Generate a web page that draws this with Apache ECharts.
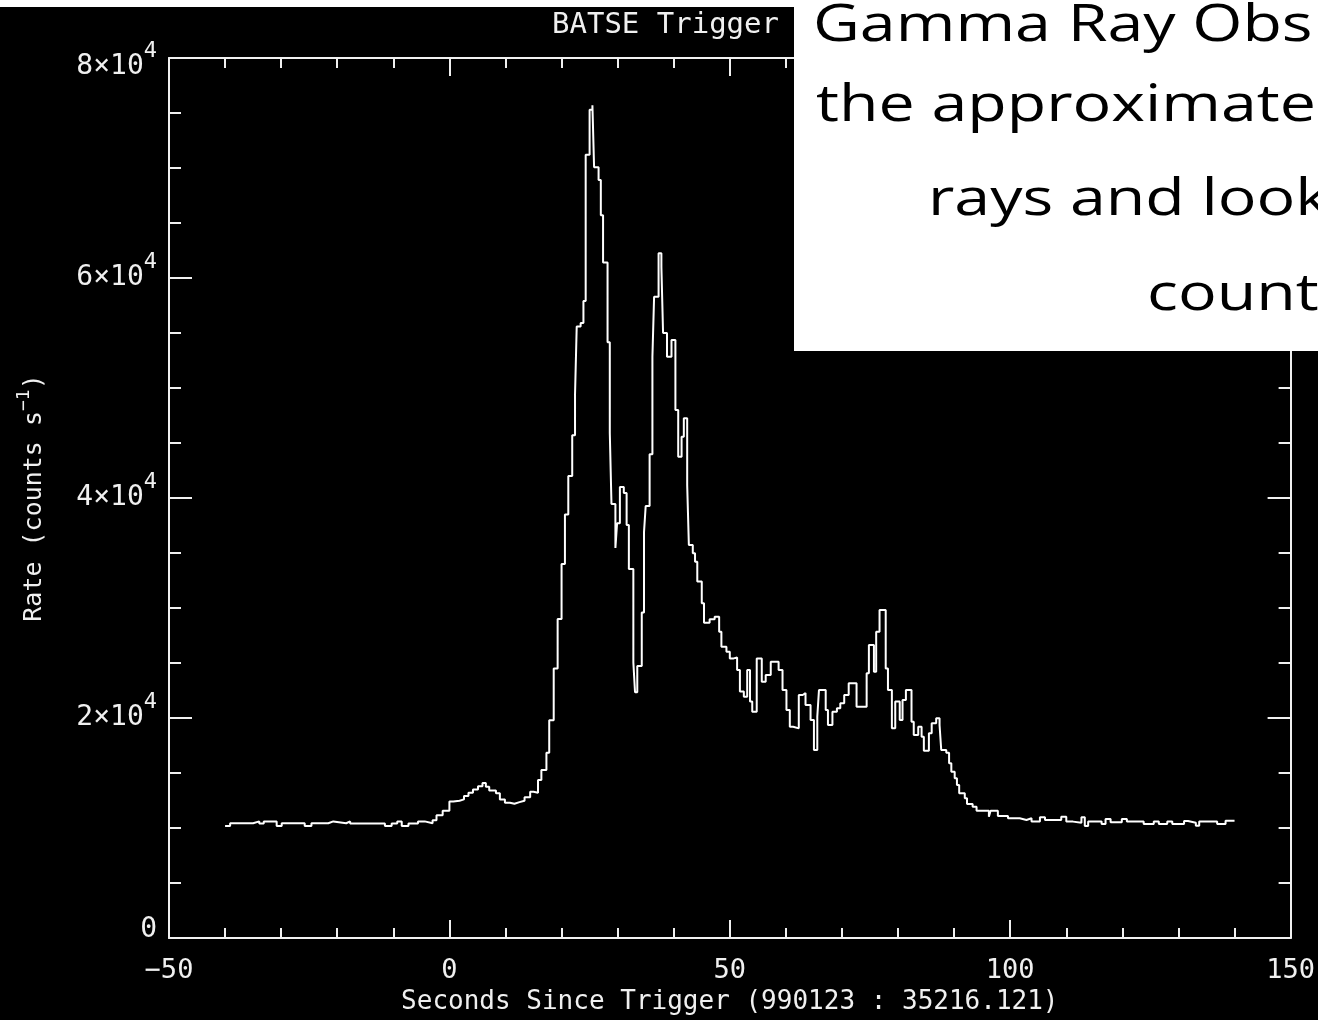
<!DOCTYPE html>
<html>
<head>
<meta charset="utf-8">
<script src="https://cdn.jsdelivr.net/npm/echarts@6/dist/echarts.min.js"></script>
<style>
html,body{margin:0;padding:0;background:#000;}
#chart{width:1318px;height:1020px;}
</style>
</head>
<body>
<div id="chart"></div>
<script>
// Bin start times (s since trigger) and count rates (counts/s)
const times = [
  -40.0,-39.1,-35.0,-33.9,-33.1,-30.8,-29.9,-25.8,-24.6,-21.6,-20.7,-18.4,-17.7,-11.5,-10.3,-9.3,-8.5,-7.3,-5.6,-4.4,
  -3.0,-2.3,-1.2,0.0,0.7,1.8,2.6,3.4,4.2,5.1,5.9,6.5,7.1,8.3,9.0,9.9,10.8,11.6,12.5,13.4,
  14.4,15.0,15.8,16.4,17.3,17.8,18.6,19.3,20.0,20.6,21.2,21.9,22.4,22.7,23.4,23.9,24.3,25.0,25.5,25.8,
  26.6,27.0,27.4,28.2,28.6,28.9,29.6,29.9,30.4,31.1,31.6,32.0,32.8,33.1,33.5,34.3,34.7,35.0,35.7,36.2,
  36.5,37.3,37.8,38.1,38.8,39.6,40.3,40.8,41.4,41.8,42.4,42.7,43.4,43.8,44.2,45.0,45.4,46.4,47.3,48.1,
  48.5,49.4,50.0,50.7,51.3,51.8,52.5,53.1,53.6,54.0,54.8,55.7,56.4,57.3,58.7,59.4,60.1,60.7,61.3,62.3,
  63.0,63.5,64.4,65.0,65.6,65.9,67.1,67.5,68.3,69.1,69.7,70.4,71.2,72.6,74.4,74.8,75.7,76.1,76.7,77.8,
  78.2,78.9,79.5,80.3,80.8,81.4,82.4,82.8,83.6,84.2,84.6,85.5,86.0,86.8,87.4,87.7,88.6,89.1,89.5,90.1,
  90.5,90.9,91.9,92.3,93.3,94.0,96.2,96.5,97.8,99.6,101.7,102.9,103.8,105.3,106.2,109.1,110.0,111.2,112.7,113.3,
  113.9,116.3,117.0,117.9,119.9,120.8,123.8,125.6,126.5,128.0,128.9,131.0,131.7,133.1,133.7,136.9,138.4,140.0
];
const rates = [
  10180,10430,10600,10400,10600,10180,10430,10180,10430,10600,10430,10600,10400,10180,10400,10600,10180,10400,10600,10430,
  10700,11150,11570,12400,12480,12600,12900,13200,13500,13800,14100,13750,13400,13150,12600,12300,12200,12350,12480,12800,
  13300,13200,14360,15270,16850,19800,24500,29000,34000,38500,42000,45700,49400,55600,55900,57900,71200,75300,75700,70060,
  68900,65700,61400,54150,45900,39450,35450,37700,41000,40450,37550,33550,25060,22340,24730,29600,36900,39270,43970,52850,
  58300,62240,61000,55000,52850,54360,48000,43750,45570,47240,41180,35730,34970,34200,32400,30430,28670,28970,29200,27850,
  26480,26030,25420,25500,24360,22400,21940,24360,21490,20570,25420,23300,23900,25120,24360,22550,20730,19210,19060,22090,
  22270,21180,19820,17090,20120,22550,20730,19360,20570,20880,21330,22090,23150,21030,24060,26640,24210,27850,29820,24510,
  22550,19060,21490,19820,21640,22550,19670,18450,19210,18300,17030,18610,19520,19970,19360,17090,16850,15880,15120,14520,
  13910,13150,12700,12180,11940,11570,11030,11570,11090,10880,10730,10880,10580,10970,10730,11030,10580,10480,10970,10180,
  10580,10360,10820,10520,10820,10580,10360,10580,10360,10580,10360,10640,10480,10210,10580,10360,10670,10670
];
const xTitle = 'Seconds Since Trigger (990123 : 35216.121)';
const plotTitle = 'BATSE Trigger';
const boxLines = ['Gamma Ray Obs', 'the approximate', 'rays and look', 'count'];

const FG = '#f0f0f0';
const MONO = '"DejaVu Sans Mono", monospace';
const BOXFONT = '52px "Open Sans", sans-serif';

// horizontal stretch of the slide text: "the approximate" spans ~500px
const cv = document.createElement('canvas').getContext('2d');
cv.font = BOXFONT;
const stretch = 500 / cv.measureText(boxLines[1]).width;
const boxLeft = [813, 816, 928, 1147];
const boxMid = [26, 106, 200, 295];

const chart = echarts.init(document.getElementById('chart'), null, {renderer: 'canvas'});

const axisLine = {show: true, onZero: false, lineStyle: {color: FG, width: 2}};
const xCommon = {
  type: 'value', min: -50, max: 150, interval: 50,
  axisLine: axisLine,
  axisTick: {show: true, inside: true, length: 18, lineStyle: {color: FG, width: 2}},
  minorTick: {show: true, splitNumber: 5, length: 10, lineStyle: {color: FG, width: 2}},
  splitLine: {show: false}, minorSplitLine: {show: false}
};
const yCommon = {
  type: 'value', min: 0, max: 80000, interval: 20000,
  axisLine: axisLine,
  axisTick: {show: true, inside: true, length: 23, lineStyle: {color: FG, width: 2}},
  minorTick: {show: true, splitNumber: 4, length: 12, lineStyle: {color: FG, width: 2}},
  splitLine: {show: false}, minorSplitLine: {show: false}
};

chart.setOption({
  backgroundColor: '#000',
  animation: false,
  grid: {left: 169, right: 27, top: 58, bottom: 82, containLabel: false},
  xAxis: [
    Object.assign({}, xCommon, {
      position: 'bottom',
      axisLabel: {
        show: true, color: FG, fontFamily: MONO, fontSize: 27, margin: 19,
        formatter: v => (v < 0 ? '\u2212' + Math.abs(v) : String(v))
      },
      name: xTitle, nameLocation: 'middle', nameGap: 51,
      nameTextStyle: {color: FG, fontFamily: MONO, fontSize: 26}
    }),
    Object.assign({}, xCommon, {position: 'top', axisLabel: {show: false}})
  ],
  yAxis: [
    Object.assign({}, yCommon, {
      position: 'left',
      axisLabel: {
        show: true, color: FG, fontFamily: MONO, fontSize: 28, margin: 12,
        formatter: v => {
          if (v === 0) return '{z|0}';
          const m = v / 10000;
          if (v === 80000) return '{bt|' + m + '\u00d710}{st|4}';
          return '{b|' + m + '\u00d710}{s|4}';
        },
        rich: {
          z: {color: FG, fontFamily: MONO, fontSize: 28, padding: [0, 0, 16, 0]},
          b: {color: FG, fontFamily: MONO, fontSize: 28},
          s: {color: FG, fontFamily: MONO, fontSize: 22, padding: [0, 0, 32, 0]},
          bt: {color: FG, fontFamily: MONO, fontSize: 28, padding: [18, 0, 0, 0]},
          st: {color: FG, fontFamily: MONO, fontSize: 22, padding: [0, 0, 14, 0]}
        }
      },
      name: '{a|Rate (counts s}{s|\u22121}{a|)}',
      nameLocation: 'middle', nameGap: 116, nameRotate: 90,
      nameTextStyle: {
        color: FG,
        rich: {
          a: {color: FG, fontFamily: MONO, fontSize: 25},
          s: {color: FG, fontFamily: MONO, fontSize: 18, padding: [0, 0, 20, 0]}
        }
      }
    }),
    Object.assign({}, yCommon, {position: 'right', axisLabel: {show: false}})
  ],
  series: [{
    type: 'line',
    step: 'end',
    xAxisIndex: 0, yAxisIndex: 0,
    data: times.map((t, i) => [t, rates[i]]),
    showSymbol: false,
    lineStyle: {color: '#ffffff', width: 2},
    z: 2
  }],
  graphic: [
    {type: 'text', left: 552, top: 11, z: 50,
     style: {text: plotTitle, fill: FG, font: '29px ' + MONO}},
    {type: 'rect', shape: {x: 0, y: 0, width: 1318, height: 7}, style: {fill: '#ffffff'}, z: 100},
    {type: 'rect', shape: {x: 794, y: 0, width: 524, height: 351}, style: {fill: '#ffffff'}, z: 100}
  ].concat(boxLines.map((txt, i) => ({
    type: 'text', x: boxLeft[i], y: boxMid[i], scaleX: stretch, z: 101,
    style: {text: txt, x: 0, y: 0, fill: '#000000', font: BOXFONT, align: 'left', verticalAlign: 'middle'}
  })))
});
</script>
</body>
</html>
